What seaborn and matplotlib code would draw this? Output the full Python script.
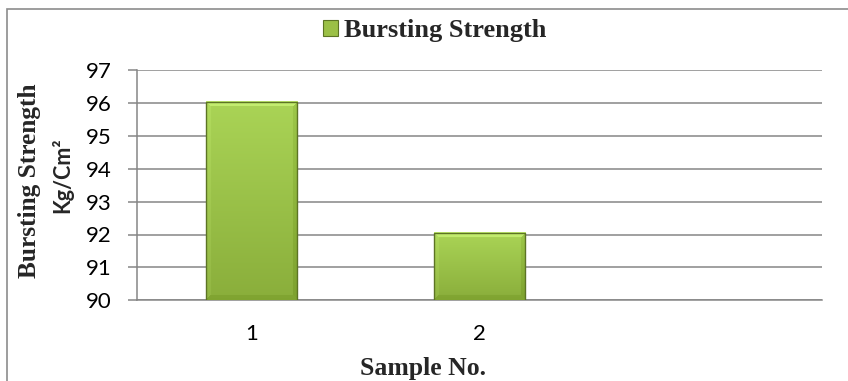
import numpy as np
import pandas as pd
import matplotlib
matplotlib.use("Agg")
import matplotlib.pyplot as plt
import seaborn as sns
from matplotlib.patches import Rectangle, Patch
from matplotlib.colors import to_rgb

# Bursting strength per sample (Kg/Cm²)
samples = ["1", "2"]
strength = [96.04, 92.04]
slots = ["1", "2", ""]          # category slots on the x axis (third left empty)
y_ticks = [90, 91, 92, 93, 94, 95, 96, 97]
legend_label = "Bursting Strength"

sns.set_theme(style="white")
plt.rcParams["font.family"] = ["Lato", "DejaVu Sans"]

W, H = 848, 381
fig = plt.figure(figsize=(W / 100, H / 100), dpi=100)
ax_left, ax_right, ax_top, ax_bottom = 137, 822, 70, 300.3
ax = fig.add_axes([ax_left / W, 1 - ax_bottom / H,
                   (ax_right - ax_left) / W, (ax_bottom - ax_top) / H])

df = pd.DataFrame({"Sample": samples, "Strength": strength})
sns.barplot(data=df, x="Sample", y="Strength", order=slots, width=0.4,
            color="#9bc046", edgecolor="#5c7424", linewidth=1.0,
            ax=ax, zorder=3, errorbar=None)

ax.set_xlim(-0.5, len(slots) - 0.5)
ax.set_ylim(y_ticks[0], y_ticks[-1])
ax.set_yticks(y_ticks)
ax.set_xticks(range(len(slots)))
ax.set_xticklabels(slots)

# Bevelled gradient fill for each bar
top_col = np.array(to_rgb("#aad456"))
bot_col = np.array(to_rgb("#8aae3b"))
px_per_x = (ax_right - ax_left) / len(slots)
px_per_y = (ax_bottom - ax_top) / (y_ticks[-1] - y_ticks[0])
bevel = 5
for patch in list(ax.patches):
    x0 = patch.get_x()
    w = patch.get_width()
    top = patch.get_y() + patch.get_height()
    if not np.isfinite(top):
        continue
    ncols = max(int(round(w * px_per_x)), 2)
    nrows = max(int(round((top - y_ticks[0]) * px_per_y)), 2)
    t = np.linspace(0, 1, nrows)[:, None]
    img = top_col[None, None, :] * (1 - t[..., None]) + bot_col[None, None, :] * t[..., None]
    img = np.repeat(img, ncols, axis=1)
    rr, cc = np.mgrid[0:nrows, 0:ncols]
    d_top, d_bot = rr, nrows - 1 - rr
    d_left, d_right = cc, ncols - 1 - cc
    dists = np.stack([d_top, d_bot, d_left, d_right])
    nearest = dists.argmin(axis=0)
    near = dists.min(axis=0) < bevel
    shade = np.array([0.10, -0.04, 0.03, -0.05])
    img = img + (shade[nearest] * near)[..., None]
    img = np.clip(img, 0, 1)
    ax.imshow(img, extent=[x0, x0 + w, y_ticks[0], top], aspect="auto",
              zorder=3.5, interpolation="bilinear", origin="upper")
    patch.set_facecolor("none")
    patch.set_zorder(4)

ax.set_xlim(-0.5, len(slots) - 0.5)
ax.set_ylim(y_ticks[0], y_ticks[-1])

grid_c = "#868686"
ax.yaxis.grid(True, color=grid_c, linewidth=1.1, zorder=1)
ax.xaxis.grid(False)
for side in ("top", "right"):
    ax.spines[side].set_visible(False)
for side in ("left", "bottom"):
    ax.spines[side].set_color(grid_c)
    ax.spines[side].set_linewidth(1.1)
ax.tick_params(axis="y", which="major", left=True, length=6.5, width=1.1,
               color=grid_c, direction="out", pad=11.5, labelsize=16,
               labelcolor="black")
ax.tick_params(axis="x", length=0, pad=17, labelsize=16, labelcolor="black")
ax.set_xlabel("")
ax.set_ylabel("")

serif = ["Liberation Serif", "DejaVu Serif"]
fig.text(423 / W, 1 - 368 / H, "Sample No.", ha="center", va="center",
         family=serif, weight="bold", fontsize=18.5)
fig.text(30 / W, 1 - 181 / H, "Bursting Strength", ha="center", va="center",
         rotation=90, family=serif, weight="bold", fontsize=18.3)
fig.text(62 / W, 1 - 175 / H, "Kg/Cm²", ha="center", va="center",
         rotation=90, weight="bold", fontsize=15.5)

handle = Patch(facecolor="#9bc046", edgecolor="#5c7424", linewidth=0.8)
fig.legend(handles=[handle], labels=[legend_label], loc="center",
           bbox_to_anchor=(435 / W, 1 - 31 / H), frameon=False,
           prop=dict(family=serif, weight="bold", size=19),
           handlelength=0.55, handleheight=0.55, handletextpad=0.25,
           borderpad=0)

# Chart-area frame
fig.add_artist(Rectangle((7 / W, -0.2), 1.5, (1 - 9 / H) + 0.2,
                         transform=fig.transFigure, fill=False,
                         edgecolor="#8c8c8c", linewidth=1.2))

fig.savefig("out.png", dpi=100, facecolor="white")
